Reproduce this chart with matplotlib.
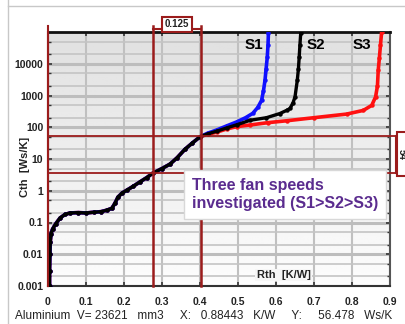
import numpy as np
import matplotlib
matplotlib.use("Agg")
import matplotlib.pyplot as plt
from matplotlib.patches import Rectangle
from matplotlib.ticker import LogLocator, NullFormatter, FixedLocator

plt.rcParams['font.family'] = ['Liberation Sans', 'DejaVu Sans']

# structure function (Rth [K/W] vs Cth [Ws/K]), common part for all fan speeds
rth_common = [0.004, 0.004, 0.005, 0.006, 0.008, 0.012, 0.02, 0.032, 0.045, 0.058,
              0.08, 0.1, 0.12, 0.14, 0.155, 0.168, 0.176, 0.184, 0.195, 0.208,
              0.225, 0.242, 0.26, 0.276, 0.3, 0.321, 0.34, 0.36, 0.38, 0.40]
cth_common = [0.001, 0.003, 0.01, 0.025, 0.045, 0.062, 0.09, 0.14, 0.18, 0.2,
              0.205, 0.2, 0.21, 0.22, 0.245, 0.28, 0.4, 0.63, 0.85, 1.05,
              1.4, 1.9, 2.6, 3.6, 5.0, 6.9, 11, 20, 32, 50]

rth_s1 = [0.42, 0.444, 0.47, 0.497, 0.52, 0.539, 0.552, 0.562, 0.567, 0.571,
          0.574, 0.577, 0.579, 0.58]
cth_s1 = [65, 82, 110, 148, 200, 275, 420, 700, 1400, 3000, 7000, 16000, 40000, 90000]

rth_s2 = [0.42, 0.444, 0.47, 0.497, 0.532, 0.575, 0.61, 0.628, 0.637, 0.645,
          0.65, 0.656, 0.659, 0.661, 0.663, 0.665]
cth_s2 = [62, 75, 95, 120, 166, 200, 270, 340, 390, 600, 900, 3000, 7000, 16000,
          40000, 90000]

rth_s3 = [0.42, 0.444, 0.47, 0.497, 0.532, 0.58, 0.628, 0.70, 0.786, 0.83, 0.852,
          0.862, 0.867, 0.869, 0.872, 0.875, 0.878]
cth_s3 = [60, 70, 88, 105, 118, 140, 160, 200, 260, 340, 490, 900, 2000, 6200,
          15000, 40000, 100000]

x_ticks = [0, 0.1, 0.2, 0.3, 0.4, 0.5, 0.6, 0.7, 0.8, 0.9]
x_labels = ['0', '0.1', '0.2', '0.3', '0.4', '0.5', '0.6', '0.7', '0.8', '0.9']
y_ticks = [0.001, 0.01, 0.1, 1, 10, 100, 1000, 10000]
y_labels = ['0.001', '0.01', '0.1', '1', '10', '100', '1000', '10000']

cursor_x = [0.277, 0.402]
cursor_y = [3.5, 52]

fig = plt.figure(figsize=(4.06, 3.24), dpi=100)
pos = [48 / 406, 38 / 324, 342 / 406, 254 / 324]

# gradient background behind the plot
bg = fig.add_axes(pos, zorder=-1)
grad = np.linspace(0.88, 0.99, 100).reshape(-1, 1)
bg.imshow(grad, aspect='auto', cmap='gray', vmin=0, vmax=1, extent=[0, 1, 0, 1])
bg.axis('off')

# frame lines of the window
fig.add_artist(plt.Line2D([8 / 406, 8 / 406], [0, 1], color='#c8c8c8', lw=1))
fig.add_artist(plt.Line2D([8 / 406, 1], [1 - 6 / 324, 1 - 6 / 324], color='#c8c8c8', lw=1))

ax = fig.add_axes(pos)
ax.set_facecolor('none')
ax.set_yscale('log')
ax.set_xlim(0, 0.9)
ax.set_ylim(0.001, 1e5)

ax.xaxis.set_major_locator(FixedLocator(x_ticks))
ax.set_xticklabels(x_labels)
ax.yaxis.set_major_locator(FixedLocator(y_ticks))
ax.set_yticklabels(y_labels)
ax.yaxis.set_minor_locator(LogLocator(base=10, subs=[2, 5]))
ax.yaxis.set_minor_formatter(NullFormatter())

ax.grid(True, which='major', axis='y', color='#bdbdbd', lw=2.2)
ax.grid(True, which='minor', axis='y', color='#c4c4c4', lw=1.2)
ax.grid(True, which='major', axis='x', color='#c0c0c0', lw=1.5)

ax.tick_params(axis='both', which='both', direction='in', top=True, right=True,
               color='#333333', labelsize=7.5, labelcolor='#222222')
ax.tick_params(axis='both', which='major', length=3, width=1.2)
ax.tick_params(axis='both', which='minor', length=2, width=1)
ax.tick_params(axis='x', pad=8)
for lab in ax.get_xticklabels() + ax.get_yticklabels():
    lab.set_fontweight('bold')

ax.spines['top'].set_color('#111111')
ax.spines['top'].set_linewidth(2)
ax.spines['bottom'].set_color('#333333')
ax.spines['bottom'].set_linewidth(1.5)
ax.spines['right'].set_color('#555555')
ax.spines['right'].set_linewidth(1.5)
ax.spines['left'].set_color('#9b1c1c')
ax.spines['left'].set_linewidth(1.5)

# curves
ax.plot(rth_common + rth_s3, cth_common + cth_s3, color='#ff1010', lw=2.6,
        marker='o', ms=2.2, zorder=3)
ax.plot(rth_common + rth_s1, cth_common + cth_s1, color='#1010ff', lw=2.6,
        marker='o', ms=2.2, zorder=4)
ax.plot(rth_common + rth_s2, cth_common + cth_s2, color='#000000', lw=2.4,
        marker='o', ms=2.2, zorder=5)

# cursor lines
red = '#9b1c1c'
for cx in cursor_x:
    ax.plot([cx, cx], [0.001, 1.6e5], color=red, lw=1.8, clip_on=False, zorder=6)
ax.plot([0, 0], [0.001, 1.6e5], color=red, lw=1.5, clip_on=False, zorder=6)
for cy in cursor_y:
    ax.plot([0, 0.915], [cy, cy], color=red, lw=1.3, clip_on=False, zorder=6)

# width marker on top
ax.plot([cursor_x[0], cursor_x[1]], [1.25e5, 1.25e5], color=red, lw=1.5,
        clip_on=False, zorder=6)
ax.text(sum(cursor_x) / 2, 1.75e5, '0.125', ha='center', va='center', fontsize=7,
        fontweight='bold', color='#222222',
        bbox=dict(boxstyle='square,pad=0.25', fc='white', ec=red, lw=1.5),
        zorder=7, clip_on=False)

# height marker at right
ax.plot([0.915, 0.915], cursor_y, color=red, lw=1.5, clip_on=False, zorder=6)
fig.add_artist(Rectangle((397 / 406, 1 - 176 / 324), 20 / 406, 44 / 324,
                         fc='white', ec=red, lw=1.5))
fig.text(402 / 406, 1 - 154 / 324, '54', rotation=-90, ha='center', va='center',
         fontsize=7, fontweight='bold', color='#222222')

# series labels
ax.text(0.542, 3.8e4, 'S1', fontsize=11, fontweight='bold', ha='center', va='center', zorder=8)
ax.text(0.705, 3.8e4, 'S2', fontsize=11, fontweight='bold', ha='center', va='center', zorder=8)
ax.text(0.826, 3.8e4, 'S3', fontsize=11, fontweight='bold', ha='center', va='center', zorder=8)

ax.text(0.62, 0.0022, 'Rth  [K/W]', fontsize=8, fontweight='bold', color='#222222',
        ha='center', va='center', zorder=8,
        bbox=dict(fc='#f6f6f6', ec='none', pad=1))

fig.text(25 / 406, 1 - 167 / 324, 'Cth  [Ws/K]', rotation=90, ha='center', va='center',
         fontsize=8, fontweight='bold', color='#222222')

ax.text(0.379, 0.78, 'Three fan speeds\ninvestigated (S1>S2>S3)', fontsize=11.5,
        fontweight='bold', color='#5b2c8f', ha='left', va='center', linespacing=1.25,
        bbox=dict(boxstyle='square,pad=0.5', fc='white', ec='#d8d8d8', lw=1),
        zorder=9)

fig.text(15 / 406, 1 - 316 / 324,
         'Aluminium  V= 23621   mm3     X:   0.88443   K/W     Y:     56.478   Ws/K',
         fontsize=8.5, color='#222222', ha='left', va='center')

fig.savefig('out.png', dpi=100)
